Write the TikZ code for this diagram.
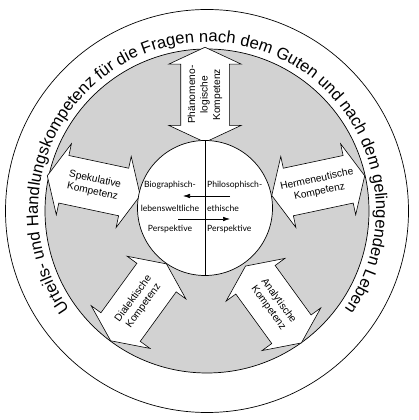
\documentclass[tikz,border=0pt]{standalone}
\usepackage{fontspec}
\setmainfont{Liberation Sans}
\newfontfamily\perspfont{Lato}
\usepackage{tikz}
\usetikzlibrary{shapes.arrows,arrows.meta,decorations.text}
\definecolor{ringgray}{HTML}{D2D2D2}

\begin{document}
\begin{tikzpicture}[x=1pt, y=1pt,
  kreis/.style={circle, draw=black, line width=0.7pt, inner sep=0pt},
  komp/.style={double arrow, draw=black, fill=white, line width=0.6pt, minimum height=95pt, inner xsep=0pt, inner ysep=24pt, double arrow head extend=12pt, double arrow tip angle=130},
  komptxt/.style={font=\fontsize{10.2}{12.5}\selectfont, align=center},
  persp/.style={font=\perspfont\fontsize{8.6}{10}\selectfont, inner sep=1pt},
  wechsel/.style={-{Latex[length=7pt,width=4.5pt]}, line width=0.6pt}
]
\useasboundingbox (0,0) rectangle (418,420);

% circles
\node[kreis, minimum size=403pt] (aussen) at (207,209) {};
\node[kreis, fill=ringgray, minimum size=324pt] (ring) at (207,209) {};

% outer text
\path[decorate, decoration={text along path, text align=center,
  text={|\fontsize{16.6}{19}\selectfont|Urteils- und Handlungskompetenz für die Fragen nach dem Guten und nach dem gelingenden Leben}}]
  (207,209) ++(226:169) arc[start angle=226, end angle=-46, radius=169];

% competences
\node[komp, rotate=90] (phaen) at (205,325.25) {};
\node[komptxt, rotate=90] (phaen-t) at (phaen) {Phänomeno-\\logische\\Kompetenz};
\node[komp, rotate=-12] (spek) at (93.76,234.36) {};
\node[komptxt, rotate=-12] (spek-t) at (spek) {Spekulative\\Kompetenz};
\node[komp, rotate=12] (herm) at (318.24,234.36) {};
\node[komptxt, rotate=12] (herm-t) at (herm) {Hermeneutische\\Kompetenz};
\node[komp, rotate=54] (dial) at (138.55,117.67) {};
\node[komptxt, rotate=54] (dial-t) at (dial) {Dialektische\\Kompetenz};
\node[komp, rotate=-54] (anal) at (273.45,115.5) {};
\node[komptxt, rotate=-54] (anal-t) at (anal) {Analytische\\Kompetenz};

% perspectives
\node[kreis, fill=white, minimum size=135pt] (mitte) at (205,212) {};
\draw[line width=0.6pt] (mitte.north) -- (mitte.south);

\node[persp] (bio1) at (170,235) {Biographisch-};
\node[persp] (bio2) at (170,212) {lebensweltliche};
\node[persp] (bio3) at (170,191) {Perspektive};
\node[persp, anchor=west] (phil1) at (206,235) {Philosophisch-};
\node[persp, anchor=west] (phil2) at (206,212) {ethische};
\node[persp, anchor=west] (phil3) at (206,191) {Perspektive};

\coordinate (links-a) at (230,224);
\coordinate (links-b) at (183,224);
\coordinate (rechts-a) at (178,201);
\coordinate (rechts-b) at (230,201);
\draw[wechsel] (links-a) -- (links-b);
\draw[wechsel] (rechts-a) -- (rechts-b);
\end{tikzpicture}
\end{document}
